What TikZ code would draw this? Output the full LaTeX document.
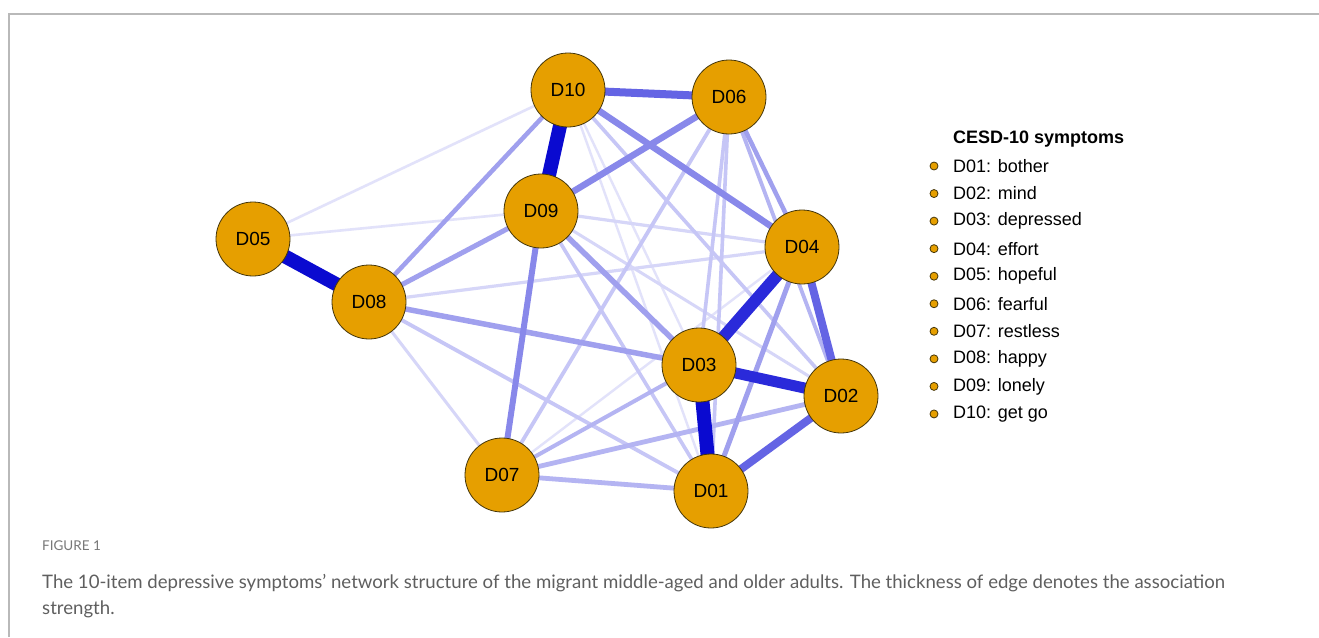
\documentclass[tikz,border=0pt]{standalone}
\usepackage{fontspec}
\setmainfont{Liberation Sans}
\newfontfamily\capfont{Lato}
\pgfdeclarelayer{bg}
\pgfdeclarelayer{background}
\pgfsetlayers{bg,background,main}
\definecolor{nodeor}{RGB}{230,159,0}
\definecolor{nodebd}{RGB}{70,55,10}
\definecolor{frameg}{RGB}{185,185,185}
\definecolor{capg}{RGB}{95,95,95}
\definecolor{figg}{RGB}{120,120,120}
\definecolor{La}{RGB}{10,10,208}
\definecolor{Lb}{RGB}{42,42,218}
\definecolor{Lc}{RGB}{100,100,228}
\definecolor{Ld}{RGB}{136,136,234}
\definecolor{Le}{RGB}{160,160,238}
\definecolor{Lf}{RGB}{180,180,242}
\definecolor{Lg}{RGB}{198,198,246}
\definecolor{Lh}{RGB}{214,214,248}
\definecolor{Li}{RGB}{226,226,250}
\tikzset{
  sym/.style={circle,fill=nodeor,draw=nodebd,line width=0.8pt,minimum size=74pt,inner sep=0pt,font=\fontsize{19}{22}\selectfont},
  legdot/.style={circle,fill=nodeor,draw=nodebd,line width=0.8pt,minimum size=8pt,inner sep=0pt},
  legtxt/.style={anchor=west,inner sep=0pt,font=\fontsize{18}{21}\selectfont},
  edg/.style 2 args={line width=#1,draw=#2,line cap=butt}
}
\newcommand{\nedge}[4]{\draw[edg={#3}{#4}] (#1.center) -- (#2.center);}
\begin{document}
\begin{tikzpicture}[x=1pt,y=-1pt]
\useasboundingbox (0,0) rectangle (1319,637);
\begin{pgfonlayer}{bg}
\fill[white] (0,0) rectangle (1319,637);
\end{pgfonlayer}
\draw[frameg,line width=2pt] (9,637) -- (9,14) -- (1319,14);
% nodes
\node[sym] (D10) at (568,90) {D10};
\node[sym] (D06) at (729,97) {D06};
\node[sym] (D09) at (541,211) {D09};
\node[sym] (D05) at (253,239) {D05};
\node[sym] (D08) at (369,302) {D08};
\node[sym] (D04) at (802,247) {D04};
\node[sym] (D03) at (699,365) {D03};
\node[sym] (D02) at (841,396) {D02};
\node[sym] (D07) at (502,475) {D07};
\node[sym] (D01) at (711,491) {D01};
\begin{pgfonlayer}{background}
% very light
\nedge{D05}{D10}{2.6pt}{Li}
\nedge{D05}{D09}{2.6pt}{Li}
\nedge{D10}{D03}{2.4pt}{Li}
\nedge{D10}{D01}{2.4pt}{Li}
\nedge{D07}{D04}{2.4pt}{Li}
% light
\nedge{D09}{D04}{3.2pt}{Lh}
\nedge{D08}{D04}{3.2pt}{Lh}
\nedge{D08}{D07}{3pt}{Lh}
\nedge{D09}{D02}{3pt}{Lh}
\nedge{D07}{D06}{3.8pt}{Lg}
\nedge{D08}{D01}{3.8pt}{Lg}
\nedge{D10}{D02}{3.6pt}{Lg}
\nedge{D06}{D03}{3.6pt}{Lg}
\nedge{D06}{D01}{3.6pt}{Lg}
\nedge{D09}{D01}{3.6pt}{Lg}
\nedge{D07}{D02}{4.8pt}{Lf}
\nedge{D07}{D01}{4.8pt}{Lf}
\nedge{D06}{D02}{3.8pt}{Lf}
\nedge{D07}{D03}{4pt}{Lf}
% medium light
\nedge{D08}{D03}{5.5pt}{Le}
\nedge{D09}{D03}{5.5pt}{Le}
\nedge{D08}{D09}{5pt}{Le}
\nedge{D08}{D10}{4.5pt}{Le}
\nedge{D04}{D01}{5pt}{Le}
\nedge{D06}{D04}{4.5pt}{Le}
% medium
\nedge{D09}{D06}{6.5pt}{Ld}
\nedge{D10}{D04}{6.5pt}{Ld}
\nedge{D09}{D07}{6pt}{Ld}
\nedge{D04}{D02}{8pt}{Lc}
\nedge{D01}{D02}{8pt}{Lc}
\nedge{D10}{D06}{8pt}{Lc}
% strong
\nedge{D03}{D04}{12pt}{Lb}
\nedge{D03}{D02}{11pt}{Lb}
\nedge{D05}{D08}{14pt}{La}
\nedge{D10}{D09}{14pt}{La}
\nedge{D03}{D01}{14pt}{La}
\end{pgfonlayer}
% legend
\node[anchor=west,inner sep=0pt,font=\fontsize{18}{21}\selectfont\bfseries] (title) at (953,139) {CESD-10 symptoms};
\foreach \i [count=\k from 0] in {D01: bother,D02: mind,D03: depressed,D04: effort,D05: hopeful,D06: fearful,D07: restless,D08: happy,D09: lonely,D10: get go}{
  \node[legdot] (b\k) at (934,{166+27.55*\k}) {};
  \node[legtxt] (t\k) at (953,{166+27.55*\k}) {\i};
}
% caption
\node[anchor=west,inner sep=0pt,text=figg,font=\capfont\fontsize{13.5}{16}\selectfont] (fig) at (42,546) {FIGURE 1};
\node[anchor=west,inner sep=0pt,text=capg,font=\capfont\fontsize{18.6}{22}\selectfont] (cap1) at (42,583) {The 10-item depressive symptoms’ network structure of the migrant middle-aged and older adults. The thickness of edge denotes the association};
\node[anchor=west,inner sep=0pt,text=capg,font=\capfont\fontsize{18.6}{22}\selectfont] (cap2) at (42,609) {strength.};
\end{tikzpicture}
\end{document}
